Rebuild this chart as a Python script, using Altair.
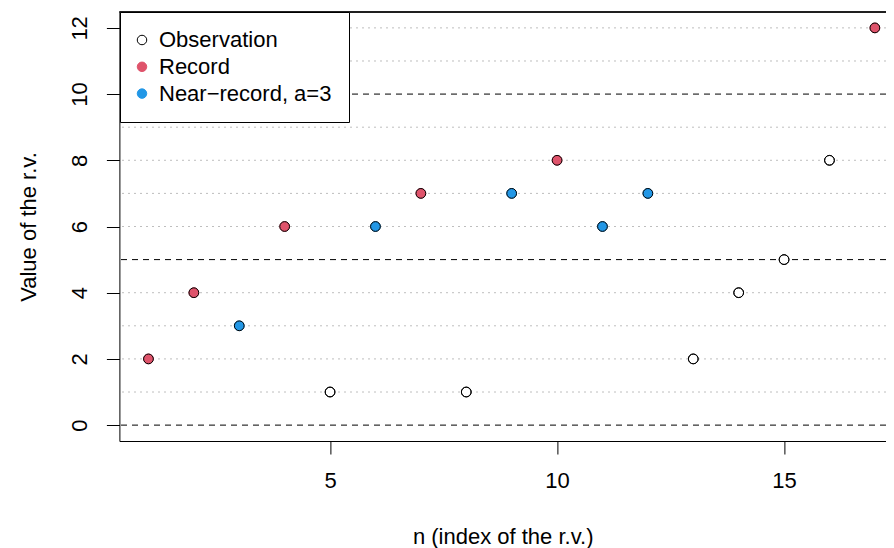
import altair as alt
import pandas as pd

# ---- data ----
n_index = list(range(1, 18))
values = [2, 4, 3, 6, 1, 6, 7, 1, 7, 8, 6, 7, 2, 4, 5, 8, 12]
NEAR = "Near\u2212record, a=3"
types = ["Record", "Record", NEAR, "Record", "Observation", NEAR, "Record",
         "Observation", NEAR, "Record", NEAR, NEAR, "Observation",
         "Observation", "Observation", "Observation", "Record"]
categories = ["Observation", "Record", NEAR]
fill_colors = ["white", "#DF536B", "#2297E6"]
stroke_colors = ["black", "#DF536B", "#2297E6"]
dashed_levels = [0, 5, 10]
dotted_levels = [1, 2, 3, 4, 6, 7, 8, 9, 11, 12]
x_ticks = [5, 10, 15]
y_ticks = [0, 2, 4, 6, 8, 10, 12]

pts = pd.DataFrame({"n": n_index, "value": values, "type": types})
dashed = pd.DataFrame({"value": dashed_levels})
dotted = pd.DataFrame({"value": dotted_levels})

FONT = "Liberation Sans"
xscale = alt.Scale(domain=[0.36, 17.245], nice=False, zero=False)
yscale = alt.Scale(domain=[-0.48, 12.48], nice=False, zero=False)

x_axis = alt.Axis(values=x_ticks, title="n (index of the r.v.)", grid=False,
                  tickSize=13, labelPadding=16, titleBaseline="alphabetic",
                  titleY=102, format="d")
y_axis = alt.Axis(values=y_ticks, title="Value of the r.v.", grid=False,
                  tickSize=13, labelPadding=20, labelAngle=270,
                  labelAlign="center", labelBaseline="alphabetic",
                  titleAngle=270, titleBaseline="alphabetic", titleX=-84.4,
                  format="d")


def X():
    return alt.X("n:Q", scale=xscale, axis=x_axis)


def Y():
    return alt.Y("value:Q", scale=yscale, axis=y_axis)


dotted_layer = alt.Chart(dotted).mark_rule(
    color="#BEBEBE", strokeDash=[2, 4], strokeWidth=1
).encode(y=Y())

dashed_layer = alt.Chart(dashed).mark_rule(
    color="black", strokeDash=[6, 5], strokeWidth=1
).encode(y=Y())

top_border = alt.Chart(dashed).mark_rule(color="black", strokeWidth=1).encode(
    y=alt.value(0)
)

points_color = alt.Chart(pts).mark_point(
    filled=True, size=95, opacity=1, strokeWidth=1, shape="circle"
).encode(
    x=X(), y=Y(),
    fill=alt.Fill("type:N", scale=alt.Scale(domain=categories, range=fill_colors),
                  legend=alt.Legend(title=None)),
    stroke=alt.Stroke("type:N", scale=alt.Scale(domain=categories, range=stroke_colors),
                      legend=alt.Legend(title=None)),
)

points_outline = alt.Chart(pts).mark_point(
    filled=False, size=95, opacity=1, strokeWidth=1, color="black", shape="circle"
).encode(x=X(), y=Y())

chart = alt.layer(
    dotted_layer, dashed_layer, top_border, points_color, points_outline
).properties(
    width=766.6, height=429,
    autosize=alt.AutoSizeParams(type="none"),
    padding={"left": 111.4, "top": 4, "right": 0, "bottom": 107},
).configure_view(stroke=None).configure_axis(
    labelFont=FONT, titleFont=FONT, labelFontSize=22, titleFontSize=22,
    titleFontWeight="normal", labelColor="black", titleColor="black",
    tickColor="black", domainColor="black", domainWidth=1, tickWidth=1,
    labelFlush=False, labelOverlap=False,
).configure_legend(
    orient="none", legendX=0.6, legendY=0, fillColor="white",
    strokeColor="black", strokeWidth=1, padding=17, cornerRadius=0,
    labelFont=FONT, labelFontSize=22, labelColor="black", symbolSize=90,
    symbolType="circle", symbolStrokeWidth=1, rowPadding=4.8, labelOffset=6,
    symbolOffset=-6, labelLimit=400,
)

chart.save("out.html", embed_options={"renderer": "svg", "actions": False})
